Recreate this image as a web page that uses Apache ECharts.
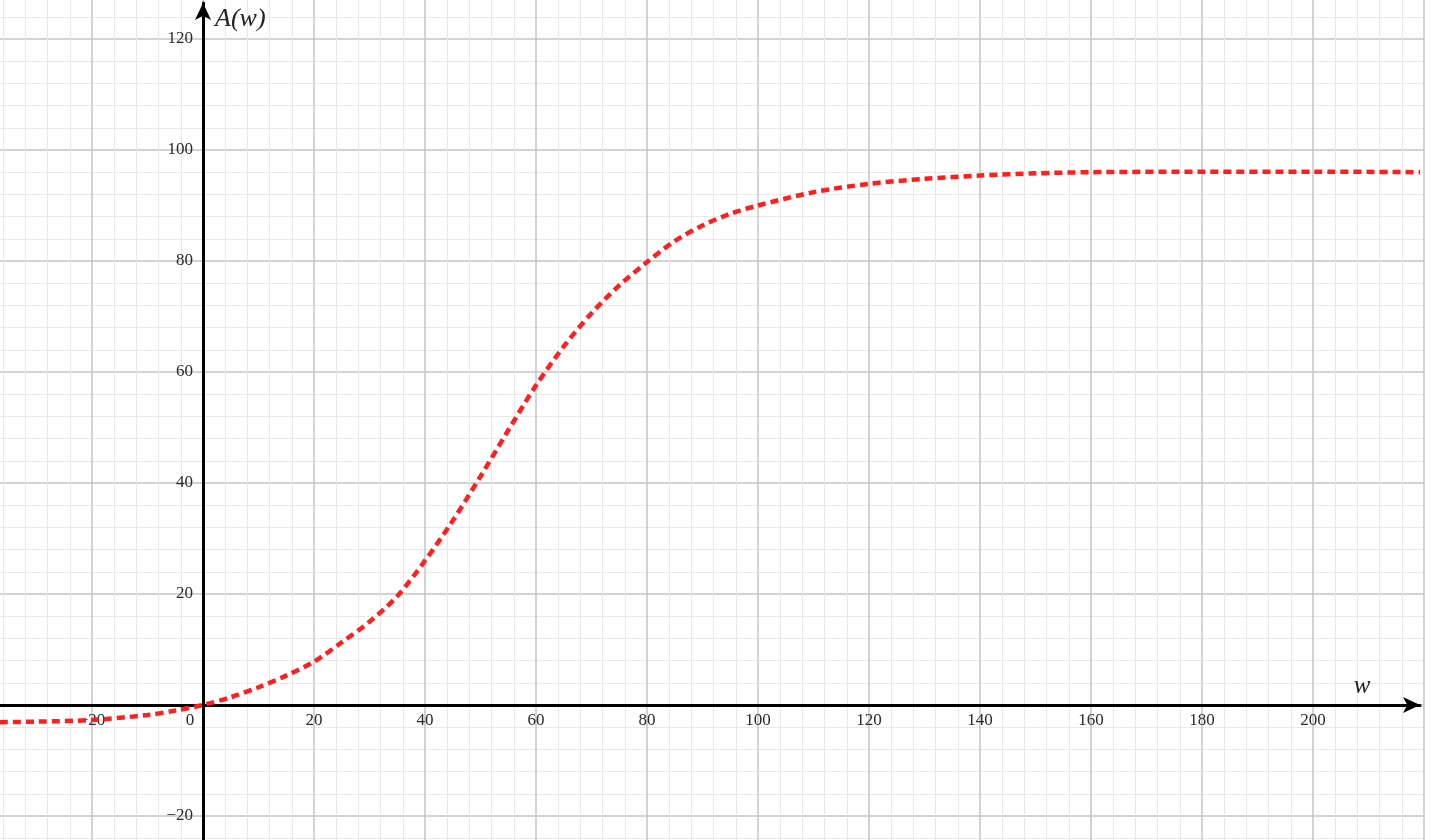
<!DOCTYPE html>
<html>
<head>
<meta charset="utf-8">
<script src="https://cdn.jsdelivr.net/npm/echarts@6/dist/echarts.min.js"></script>
<style>
html,body{margin:0;padding:0;background:#fff;}
#chart{width:1440px;height:840px;}
</style>
</head>
<body>
<div id="chart"></div>
<script>
// Data
const wValues = [-36.6,-30,-20,-10,-5,0,5,10,15,20,25,30,35,40,45,50,55,60,65,70,75,80,85,90,95,100,110,120,130,140,150,160,180,200,219.3];
const aValues = [-3.1,-3.0,-2.7,-1.8,-1.0,0,1.4,3.2,5.3,7.8,11.3,15.0,19.6,26.0,33.2,41.2,49.5,57.6,64.6,70.6,75.6,79.8,83.6,86.4,88.5,90,92.4,93.9,94.8,95.4,95.8,96,96.1,96.1,96];
const xTickLabels = [-20,0,20,40,60,80,100,120,140,160,180,200];
const yTickLabels = [-20,20,40,60,80,100,120];
const xAxisName = 'w';
const yAxisName = 'A(w)';

const seriesData = wValues.map((w, i) => [w, aValues[i]]);
const fmt = v => (v < 0 ? '\u2212' + Math.abs(v) : String(v));

const labelFont = {fontFamily: 'Liberation Serif', fontSize: 17, color: '#2a2a2a'};
const chart = echarts.init(document.getElementById('chart'));
chart.setOption({
  animation: false,
  backgroundColor: '#fff',
  grid: [
    {left: -19, right: 16, top: -72, bottom: -87, containLabel: false, outerBoundsMode: 'none'},
    {left: 0, right: 20, top: 3, bottom: 0, containLabel: false, outerBoundsMode: 'none'}
  ],
  xAxis: [
    {
      type: 'value', gridIndex: 0, min: -40, max: 220, interval: 20,
      position: 'bottom', offset: -222,
      axisLine: {show: false, onZero: false},
      axisTick: {show: false},
      axisLabel: Object.assign({
        margin: 7,
        showMaxLabel: false,
        formatter: v => {
          if (!xTickLabels.includes(v)) return '';
          if (v === 0) return '{z|0}';
          return fmt(v);
        },
        rich: {z: Object.assign({padding: [0, 26, 0, 0]}, labelFont)}
      }, labelFont),
      splitLine: {show: true, lineStyle: {color: '#c4c4c4', width: 1.5}},
      minorTick: {show: false, splitNumber: 5},
      minorSplitLine: {show: true, lineStyle: {color: '#e8e8e8', width: 1}}
    },
    {
      type: 'value', gridIndex: 1, min: -36.58, max: 219.28,
      axisLine: {show: true, onZero: true, symbol: ['none', 'arrow'], symbolSize: [12, 17],
        lineStyle: {color: '#000', width: 3}},
      axisTick: {show: false}, axisLabel: {show: false}, splitLine: {show: false},
      name: xAxisName, nameLocation: 'end', nameGap: -58,
      nameTextStyle: {fontFamily: 'Liberation Serif', fontStyle: 'italic', fontSize: 25, color: '#222',
        align: 'center', verticalAlign: 'bottom', padding: [0, 0, 6, 0]}
    }
  ],
  yAxis: [
    {
      type: 'value', gridIndex: 0, min: -40, max: 140, interval: 20,
      position: 'left', offset: -222,
      axisLine: {show: false, onZero: false},
      axisTick: {show: false},
      axisLabel: Object.assign({
        margin: 10,
        formatter: v => (yTickLabels.includes(v) ? fmt(v) : '')
      }, labelFont),
      splitLine: {show: true, lineStyle: {color: '#c4c4c4', width: 1.5}},
      minorTick: {show: false, splitNumber: 5},
      minorSplitLine: {show: true, lineStyle: {color: '#e8e8e8', width: 1}}
    },
    {
      type: 'value', gridIndex: 1, min: -24.32, max: 126.5,
      axisLine: {show: true, onZero: true, symbol: ['none', 'arrow'], symbolSize: [12, 17],
        lineStyle: {color: '#000', width: 3}},
      axisTick: {show: false}, axisLabel: {show: false}, splitLine: {show: false},
      name: yAxisName, nameLocation: 'end', nameGap: -16,
      nameTextStyle: {fontFamily: 'Liberation Serif', fontStyle: 'italic', fontSize: 26, color: '#222',
        align: 'left', verticalAlign: 'middle', padding: [0, 0, 0, 12]}
    }
  ],
  series: [
    {
      type: 'line', xAxisIndex: 0, yAxisIndex: 0,
      data: seriesData, smooth: 0.3, showSymbol: false, clip: true,
      lineStyle: {color: '#ff1f1f', width: 4.5, type: [8, 5]},
      z: 5
    }
  ]
});
</script>
</body>
</html>
